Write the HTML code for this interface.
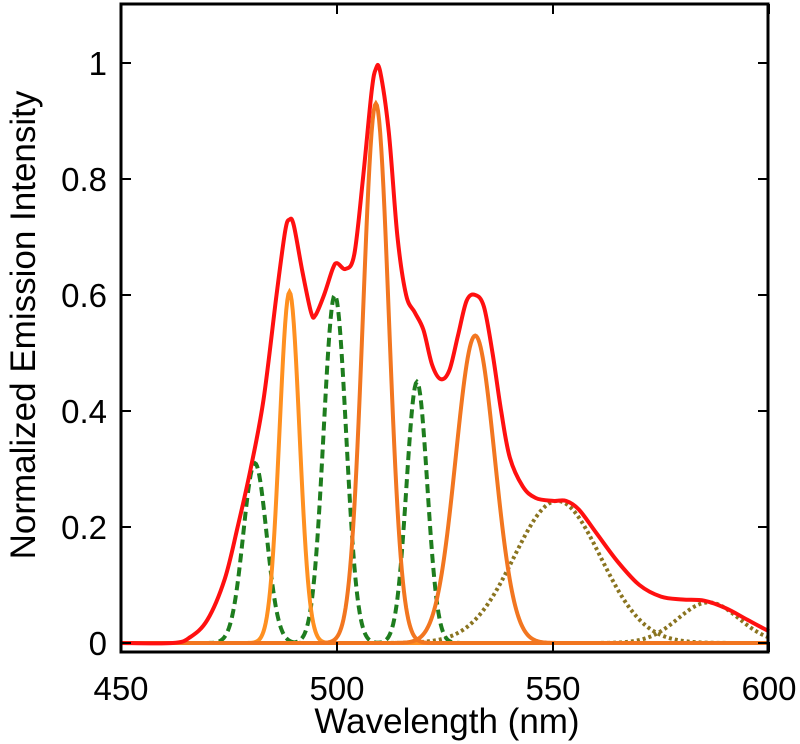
<!DOCTYPE html>
<html><head><meta charset="utf-8"><style>
html,body{margin:0;padding:0;background:#fff;}
svg{display:block;font-family:"Liberation Sans",Arial,sans-serif;}
</style></head><body>
<svg id="chart" width="800" height="744" viewBox="0 0 800 744"></svg>
<script>
const xTicks=[450,500,550,600];
const yTicks=[0,0.2,0.4,0.6,0.8,1];
const yTickLabels=["0","0.2","0.4","0.6","0.8","1"];
const redX=[450,462,466,470,474,477,480,483,486,488,489,490,492,494,495,497,499,500,502,504,506,508,509,510,512,514,516,518,520,522,524,526,528,530,532,534,536,538,540,543,546,550,553,556,560,565,570,575,580,585,590,595,600];
const redY=[0,0,0.01,0.04,0.11,0.2,0.3,0.42,0.6,0.71,0.73,0.72,0.64,0.57,0.565,0.6,0.645,0.655,0.645,0.67,0.8,0.95,0.99,0.985,0.88,0.7,0.6,0.57,0.54,0.48,0.455,0.47,0.53,0.59,0.6,0.58,0.5,0.4,0.32,0.27,0.25,0.245,0.245,0.23,0.19,0.14,0.1,0.08,0.075,0.073,0.06,0.04,0.02];
const greenCenters=[481,499.5,518.5];
const greenAmps=[0.31,0.6,0.45];
const greenSigmas=[2.7,2.6,2.4];
const orangeCenters=[489,509,532];
const orangeAmps=[0.605,0.93,0.53];
const orangeSigmas=[2.3,3.0,4.5];
const oliveCenters=[551,586];
const oliveAmps=[0.245,0.07];
const oliveSigmas=[10,7];

const L=121,R=768,T=4,B=652;
const X=v=>121+(v-450)*4.32;
const Y=v=>643-v*580;
const svg=document.getElementById('chart');
const NS='http://www.w3.org/2000/svg';
function mk(tag,attrs){const e=document.createElementNS(NS,tag);for(const k in attrs)e.setAttribute(k,attrs[k]);svg.appendChild(e);return e;}

function gaussPath(c,a,s){let d='';for(let w=450;w<=600;w+=0.25){const v=a*Math.exp(-((w-c)**2)/(2*s*s));d+=(d?'L':'M')+X(w).toFixed(2)+','+Y(v).toFixed(2);}return d;}
function smoothPath(xs,ys){const p=xs.map((x,i)=>[X(x),Y(ys[i])]);let d='M'+p[0][0]+','+p[0][1];for(let i=0;i<p.length-1;i++){const p0=p[Math.max(0,i-1)],p1=p[i],p2=p[i+1],p3=p[Math.min(p.length-1,i+2)];const c1=[p1[0]+(p2[0]-p0[0])/6,p1[1]+(p2[1]-p0[1])/6],c2=[p2[0]-(p3[0]-p1[0])/6,p2[1]-(p3[1]-p1[1])/6];d+=`C${c1[0].toFixed(2)},${c1[1].toFixed(2)} ${c2[0].toFixed(2)},${c2[1].toFixed(2)} ${p2[0].toFixed(2)},${p2[1].toFixed(2)}`;}return d;}

oliveCenters.forEach((c,i)=>{const e=mk('path',{d:gaussPath(c,oliveAmps[i],oliveSigmas[i]),fill:'none',stroke:'#8a7420','stroke-width':4,'stroke-dasharray':'3,3'});

});
greenCenters.forEach((c,i)=>{const e=mk('path',{d:gaussPath(c,greenAmps[i],greenSigmas[i]),fill:'none',stroke:'#1e7d1e','stroke-width':4,'stroke-dasharray':'9,5'});

});
const oCols=['#ff9020','#f27620','#f27620'];
orangeCenters.forEach((c,i)=>{const e=mk('path',{d:gaussPath(c,orangeAmps[i],orangeSigmas[i]),fill:'none',stroke:oCols[i],'stroke-width':4});

});
const red=mk('path',{d:smoothPath(redX,redY),fill:'none',stroke:'#ff1010','stroke-width':4,'stroke-linejoin':'round'});



const fr=mk('rect',{x:L,y:T,width:R-L,height:B-T,fill:'none',stroke:'#000','stroke-width':3});


xTicks.forEach(v=>{
 mk('line',{x1:X(v),x2:X(v),y1:B,y2:B-10,stroke:'#000','stroke-width':2});
 mk('line',{x1:X(v),x2:X(v),y1:T,y2:T+10,stroke:'#000','stroke-width':2});
 const t=mk('text',{x:X(v),y:700,'font-size':33,'text-anchor':'middle',fill:'#000'});t.textContent=v;
 
 
});
yTicks.forEach((v,i)=>{
 mk('line',{x1:L,x2:L+10,y1:Y(v),y2:Y(v),stroke:'#000','stroke-width':2});
 mk('line',{x1:R,x2:R-10,y1:Y(v),y2:Y(v),stroke:'#000','stroke-width':2});
 const t=mk('text',{x:107,y:Y(v)+12,'font-size':33,'text-anchor':'end',fill:'#000'});t.textContent=yTickLabels[i];
 
 
});
const xl=mk('text',{x:447,y:733,'font-size':35,'text-anchor':'middle',fill:'#000'});xl.textContent='Wavelength (nm)';


const yl=mk('text',{x:0,y:0,'font-size':35,'text-anchor':'middle',fill:'#000',transform:'translate(35,325) rotate(-90)'});yl.textContent='Normalized Emission Intensity';


</script>
</body></html>
